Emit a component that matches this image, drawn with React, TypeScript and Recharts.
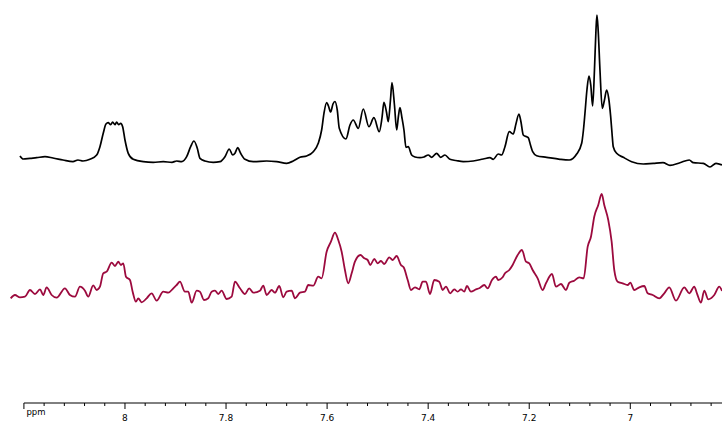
import React from "react";
import { LineChart, Line, XAxis, YAxis, ReferenceLine } from "recharts";

// Upper (black) spectrum: chemical shift (ppm) and intensity (arbitrary units)
const ppmTop = [
  8.2078, 8.2013, 8.188, 8.1748, 8.1583, 8.1425, 8.1227, 8.1029, 8.093, 8.0831, 8.0693, 8.056,
  8.0495, 8.043, 8.0376, 8.0331, 8.0283, 8.0244, 8.0198, 8.0165, 8.0125, 8.0085, 8.0046, 8.0,
  7.9935, 7.9836, 7.9638, 7.944, 7.9242, 7.907, 7.8977, 7.8878, 7.8779, 7.87, 7.8635, 7.8569,
  7.8516, 7.8417, 7.8253, 7.812, 7.8021, 7.7936, 7.7869, 7.7823, 7.777, 7.7711, 7.7625, 7.7461,
  7.7196, 7.6998, 7.68, 7.667, 7.6537, 7.6405, 7.6274, 7.6175, 7.6108, 7.6062, 7.6009, 7.5973,
  7.593, 7.5884, 7.5845, 7.5799, 7.5759, 7.5627, 7.5547, 7.5482, 7.5383, 7.5284, 7.5172, 7.5073,
  7.4968, 7.4914, 7.4875, 7.4825, 7.479, 7.4746, 7.4716, 7.4667, 7.4623, 7.4588, 7.4558, 7.4518,
  7.4479, 7.4439, 7.4394, 7.4327, 7.4261, 7.4162, 7.4083, 7.3998, 7.3931, 7.3832, 7.3753, 7.3667,
  7.3569, 7.345, 7.3305, 7.3108, 7.291, 7.2777, 7.2712, 7.2613, 7.2546, 7.248, 7.2395, 7.2316,
  7.2263, 7.2203, 7.2163, 7.2118, 7.2019, 7.1975, 7.1932, 7.1853, 7.1655, 7.1392, 7.1208, 7.1061,
  7.0962, 7.0927, 7.0897, 7.0858, 7.0818, 7.0782, 7.0745, 7.0709, 7.0679, 7.066, 7.0636, 7.06,
  7.0555, 7.0511, 7.0468, 7.0428, 7.0388, 7.0362, 7.0337, 7.027, 7.0139, 6.9973, 6.9743, 6.9545,
  6.9353, 6.9215, 6.9017, 6.8833, 6.8753, 6.8556, 6.8423, 6.8304, 6.8185,
];
const intTop = [
  247, 244, 244.7, 245.3, 246.3, 245, 243, 241.3, 243, 242, 243.7, 248,
  256.3, 269.7, 279, 280.3, 278.3, 281, 278.3, 281, 278.3, 279.7, 276.3, 263,
  249.7, 243.7, 241.3, 240.7, 241.3, 240.7, 242, 241.3, 246.3, 256.3, 262, 254.7,
  244.7, 242, 240.7, 241.3, 246.3, 254, 248, 249.7, 255.3, 249.7, 243.7, 241.3,
  242, 241.3, 239.7, 242, 245.7, 247, 251.3, 259.7, 273, 289.7, 300.5, 297,
  291, 299, 301.5, 293, 274.7, 264, 278, 283, 274.7, 294, 276.3, 285.3,
  271.3, 285, 300.7, 291, 281.3, 303, 320.3, 298, 273, 287, 295.3, 285,
  273, 255.7, 256.3, 248, 246, 245.3, 246, 248, 245.7, 249.7, 245.7, 248,
  243.7, 242.5, 241.3, 242, 244, 245.3, 243.7, 249, 248, 256.3, 271.3, 269,
  279, 289, 281, 268, 265.3, 258, 251.3, 247.3, 245.7, 243.7, 243, 249,
  259.7, 273, 289.7, 313, 327, 318, 297, 333, 373, 388, 373, 333,
  294.7, 303, 313, 305, 286.3, 270, 256.3, 249.7, 245.7, 241.3, 239, 239.7,
  240.3, 237.7, 240.3, 243, 240.3, 239.7, 236, 239.7, 238,
];

// Lower (crimson) spectrum
const ppmBottom = [
  8.2262, 8.2177, 8.2078, 8.1979, 8.188, 8.1781, 8.1682, 8.1617, 8.155, 8.1451, 8.1352, 8.1188,
  8.1089, 8.099, 8.0891, 8.0792, 8.0727, 8.0628, 8.056, 8.0495, 8.043, 8.0362, 8.0263, 8.0198,
  8.0133, 8.0079, 8.0034, 7.998, 7.9901, 7.9848, 7.9783, 7.9737, 7.967, 7.9571, 7.9472, 7.9373,
  7.9242, 7.9143, 7.9044, 7.8977, 7.8912, 7.8813, 7.8747, 7.868, 7.8581, 7.8516, 7.8437, 7.8352,
  7.8285, 7.8219, 7.8154, 7.8087, 7.7988, 7.7889, 7.7823, 7.7724, 7.7625, 7.7541, 7.7461, 7.7329,
  7.7263, 7.7196, 7.7097, 7.7032, 7.6947, 7.6868, 7.68, 7.6701, 7.6636, 7.6537, 7.6438, 7.6373,
  7.6274, 7.6175, 7.6108, 7.6009, 7.5924, 7.5845, 7.5779, 7.5712, 7.5647, 7.5581, 7.5514, 7.5449,
  7.534, 7.5264, 7.5197, 7.5146, 7.5066, 7.4999, 7.4934, 7.4869, 7.477, 7.4703, 7.4624, 7.4539,
  7.4485, 7.4405, 7.434, 7.4261, 7.4176, 7.4109, 7.4043, 7.3964, 7.3879, 7.378, 7.3713, 7.3647,
  7.3563, 7.3483, 7.3416, 7.3351, 7.3285, 7.3232, 7.3153, 7.3054, 7.2989, 7.289, 7.2822, 7.2737,
  7.2658, 7.2613, 7.2526, 7.248, 7.2395, 7.2328, 7.2229, 7.2144, 7.2065, 7.1999, 7.1932, 7.1833,
  7.1734, 7.1669, 7.155, 7.1471, 7.1372, 7.1273, 7.1207, 7.1109, 7.101, 7.0923, 7.0843, 7.0778,
  7.0713, 7.0634, 7.0566, 7.0515, 7.0436, 7.0369, 7.0317, 7.025, 7.0151, 7.0052, 7.0, 6.9921,
  6.9822, 6.9723, 6.9656, 6.9557, 6.9427, 6.9328, 6.9229, 6.9096, 6.8932, 6.8833, 6.8734, 6.8681,
  6.8601, 6.8536, 6.8457, 6.8338, 6.8239, 6.8185,
];
const intBottom = [
  104.7, 108, 105.7, 106.3, 113, 109, 113.7, 108, 115.7, 108, 105.3, 114.7,
  108, 106.3, 116.3, 112.3, 106.3, 117.7, 113, 116.3, 129.7, 131.3, 140.3, 137,
  141.3, 138, 139.7, 126.3, 123, 111.3, 101.3, 104.7, 100.7, 104.7, 109.7, 102.3,
  111.3, 110.3, 114.7, 118, 121.3, 111.3, 111.3, 100.3, 112.3, 111.3, 103, 104.7,
  111.3, 112.3, 109, 112.3, 104, 106.3, 121.3, 114.7, 109, 114.7, 110.3, 112.3,
  117.3, 108, 113, 110.3, 117, 105.7, 111.3, 112.3, 104.7, 110.3, 111.3, 118,
  117.3, 126.3, 124.7, 151.3, 161.3, 170.3, 163, 151.3, 133, 119.7, 129.7, 141.3,
  148, 144.7, 143, 138, 144, 139.7, 142, 139, 145.7, 143, 147, 138,
  135.7, 123, 113, 115.7, 113.7, 121.3, 121.3, 109, 123, 121.3, 113, 116.3,
  109.7, 113.7, 111.3, 113.7, 111.3, 117, 111.3, 113.7, 114.7, 118, 114.7, 123,
  126.3, 123, 125.7, 129.7, 133, 138, 148, 153, 141.3, 139.7, 133, 124.7,
  113, 119.7, 129, 116.3, 119, 113, 120.3, 122.3, 125.7, 124.7, 156.3, 166.3,
  186.3, 198, 209, 198, 183, 161.3, 133, 121.3, 119.7, 118, 120.3, 113,
  115.7, 117, 109.7, 108, 104.7, 109.7, 115.7, 102.3, 115.7, 109.7, 116.3, 109.7,
  100.3, 112.3, 103.7, 108, 116.3, 112,
];

// Axis ticks (ppm)
const majorTicks = [8, 7.8, 7.6, 7.4, 7.2, 7];
const allTicks = [
  8.2, 8.16, 8.12, 8.08, 8.04, 8, 7.96, 7.92, 7.88, 7.84, 7.8, 7.76, 7.72, 7.68, 7.64, 7.6,
  7.56, 7.52, 7.48, 7.44, 7.4, 7.36, 7.32, 7.28, 7.24, 7.2, 7.16, 7.12, 7.08, 7.04, 7, 6.96,
  6.92, 6.88, 6.84,
];
const axisStart = 8.2;
const axisUnitLabel = "ppm";

const topData = ppmTop.map((p, i) => ({ ppm: p, v: intTop[i] }));
const bottomData = ppmBottom.map((p, i) => ({ ppm: p, v: intBottom[i] }));

const FONT = "'DejaVu Sans', Verdana, sans-serif";

const Tick = (props: any) => {
  const { x, y, payload } = props;
  const v = payload.value as number;
  const isMajor = majorTicks.some((m) => Math.abs(m - v) < 1e-6);
  const isStart = Math.abs(v - axisStart) < 1e-6;
  if (isStart) {
    return (
      <g>
        <line x1={x} x2={x} y1={y} y2={y + 6} stroke="#000" strokeWidth={1} />
        <text x={x + 2.5} y={y + 11.5} fontSize={8.5} fontFamily={FONT} fill="#000" textAnchor="start">
          {axisUnitLabel}
        </text>
      </g>
    );
  }
  if (isMajor) {
    return (
      <g>
        <line x1={x} x2={x} y1={y} y2={y + 6} stroke="#000" strokeWidth={1} />
        <text x={x} y={y + 18.3} fontSize={9} fontFamily={FONT} fill="#000" textAnchor="middle">
          {String(v)}
        </text>
      </g>
    );
  }
  return <line x1={x} x2={x} y1={y} y2={y + 3} stroke="#000" strokeWidth={1} />;
};

export default function App() {
  return (
    <div style={{ position: "absolute", left: 0, top: 0, width: 722, height: 422, background: "#fff" }}>
      <LineChart width={722} height={422} margin={{ top: 0, right: 0, bottom: 0, left: 9 }}>
        <XAxis
          type="number"
          dataKey="ppm"
          domain={[6.8185, 8.2295]}
          reversed
          ticks={allTicks}
          interval={0}
          axisLine={false}
          tickLine={false}
          tickSize={0}
          tickMargin={0}
          height={19}
          tick={<Tick />}
          allowDataOverflow
        />
        <YAxis type="number" domain={[0, 403]} hide allowDataOverflow />
        <ReferenceLine
          segment={[
            { x: axisStart, y: 0 },
            { x: 6.8185, y: 0 },
          ]}
          stroke="#000"
          strokeWidth={1}
          ifOverflow="visible"
        />
        <Line
          data={topData}
          dataKey="v"
          type="monotone"
          stroke="#000000"
          strokeWidth={1.7}
          dot={false}
          isAnimationActive={false}
        />
        <Line
          data={bottomData}
          dataKey="v"
          type="monotone"
          stroke="#9c0a3e"
          strokeWidth={1.8}
          dot={false}
          isAnimationActive={false}
        />
      </LineChart>
    </div>
  );
}
